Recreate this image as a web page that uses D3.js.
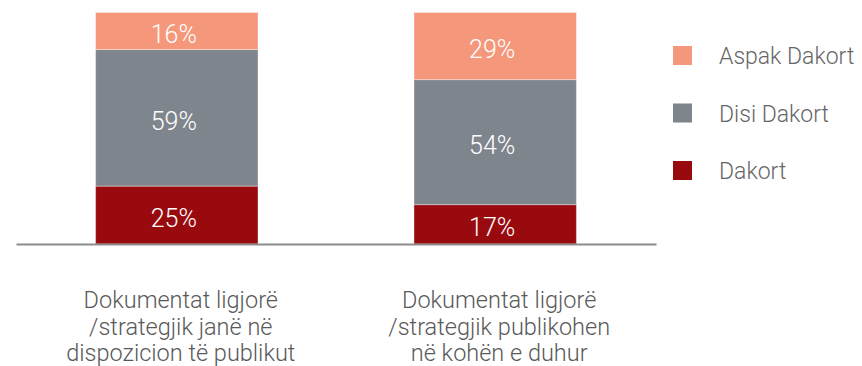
<!DOCTYPE html>
<html>
<head>
<meta charset="utf-8">
<script src="https://cdn.jsdelivr.net/npm/d3@7/dist/d3.min.js"></script>
<style>
  html, body { margin: 0; padding: 0; background: #fff; }
  svg { display: block; }
  text { font-family: Roboto, "Open Sans", sans-serif; }
</style>
</head>
<body>
<svg id="chart" width="862" height="366"></svg>
<script>
// Survey responses per statement (percent)
const categories = [
  ["Dokumentat ligjorë", "/strategjik janë në", "dispozicion të publikut"],
  ["Dokumentat ligjorë", "/strategjik publikohen", "në kohën e duhur"]
];
const seriesNames = ["Dakort", "Disi Dakort", "Aspak Dakort"];
const dakort = [25, 17];
const disiDakort = [59, 54];
const aspakDakort = [16, 29];
const colors = ["#990a0f", "#7f858d", "#f4977a"];

const svg = d3.select("#chart");
const baseY = 244, topY = 12.5;

const rows = categories.map((c, i) => ({
  key: i,
  "Dakort": dakort[i],
  "Disi Dakort": disiDakort[i],
  "Aspak Dakort": aspakDakort[i]
}));
const stacked = d3.stack().keys(seriesNames)(rows);

const x = d3.scaleBand()
  .domain(d3.range(categories.length))
  .range([16, 656])
  .paddingInner(0.49)
  .paddingOuter(0.25);
const y = d3.scaleLinear().domain([0, 100]).range([baseY, topY]);
const color = d3.scaleOrdinal().domain(seriesNames).range(colors);

// Bars
const layer = svg.append("g").selectAll("g")
  .data(stacked).join("g")
  .attr("fill", d => color(d.key));

layer.selectAll("rect")
  .data(d => d).join("rect")
  .attr("x", (d, i) => x(i))
  .attr("width", x.bandwidth())
  .attr("y", d => y(d[1]))
  .attr("height", d => y(d[0]) - y(d[1]))
  .attr("stroke", "rgba(255,255,255,0.35)")
  .attr("stroke-width", 1);

// Value labels
layer.selectAll("text")
  .data(d => d.map(v => ({ v, key: d.key }))).join("text")
  .attr("x", (d, i) => x(i) + x.bandwidth() / 2 - 3)
  .attr("y", d => (y(d.v[0]) + y(d.v[1])) / 2 + 12)
  .attr("text-anchor", "middle")
  .attr("fill", "#fff")
  .attr("font-size", 25)
  .attr("font-weight", 300)
  .text(d => (d.v[1] - d.v[0]) + "%");

// Baseline axis
svg.append("g")
  .attr("transform", `translate(0,${baseY})`)
  .call(d3.axisBottom(x).tickSize(0).tickFormat(""))
  .call(g => g.select(".domain").attr("stroke", "#8c8c8c").attr("stroke-width", 2))
  .call(g => g.selectAll(".tick").remove());

// Category labels
const cat = svg.append("g").selectAll("text")
  .data(categories).join("text")
  .attr("text-anchor", "middle")
  .attr("fill", "#595959")
  .attr("font-size", 23.5)
  .attr("font-weight", 300)
  .attr("transform", (d, i) => `translate(${x(i) + x.bandwidth() / 2 + 4},308)`);
cat.selectAll("tspan")
  .data(d => d).join("tspan")
  .attr("x", 0)
  .attr("dy", (d, j) => j === 0 ? 0 : 26.5)
  .text(d => d);

// Legend (top to bottom: Aspak, Disi, Dakort)
const legendOrder = seriesNames.slice().reverse();
const legendY = d3.scalePoint().domain(legendOrder).range([46, 161]);
const lg = svg.append("g").selectAll("g")
  .data(legendOrder).join("g")
  .attr("transform", d => `translate(673,${legendY(d)})`);
lg.append("rect")
  .attr("width", 19).attr("height", 19)
  .attr("fill", d => color(d));
lg.append("text")
  .attr("x", 46).attr("y", 18)
  .attr("fill", "#666")
  .attr("font-size", 23)
  .attr("font-weight", 300)
  .text(d => d);
</script>
</body>
</html>
